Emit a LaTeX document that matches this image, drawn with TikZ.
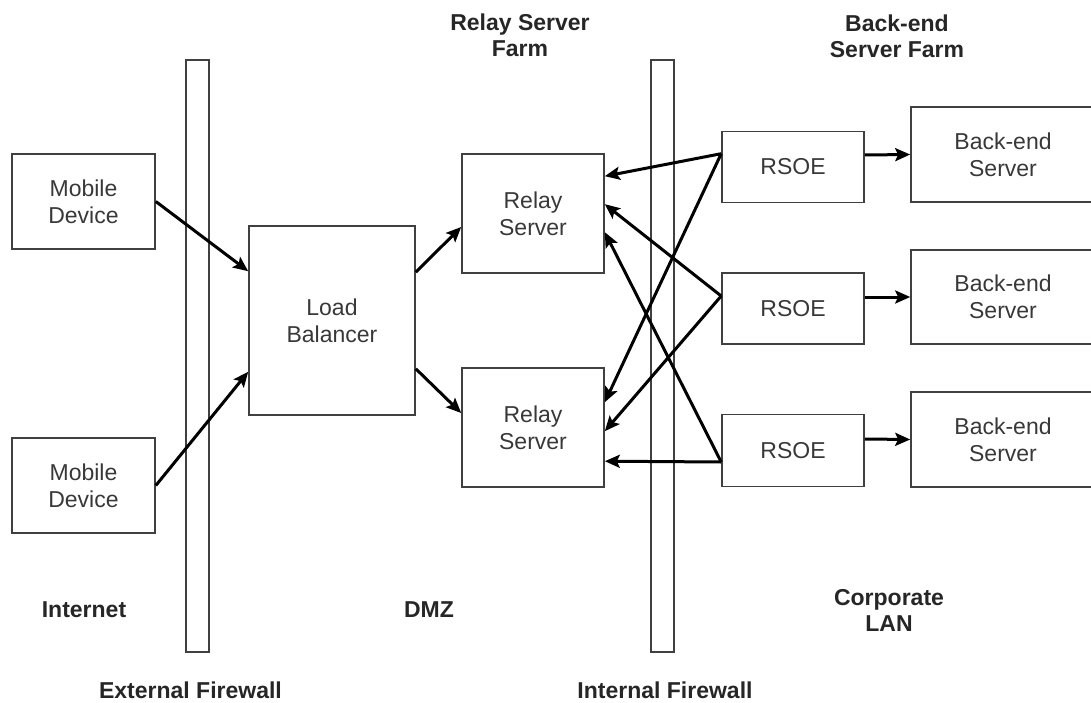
\documentclass[tikz,border=0pt]{standalone}
\usepackage{fontspec}
\setmainfont{Liberation Sans}
\usetikzlibrary{arrows.meta,calc}
\definecolor{boxline}{HTML}{404040}
\definecolor{boxtext}{HTML}{383838}
\tikzset{
  box/.style={draw=boxline, line width=1.6pt, rectangle, align=center, text=boxtext, inner sep=0pt},
  wall/.style={draw=boxline, line width=1.4pt, rectangle, inner sep=0pt, minimum width=23pt, minimum height=592pt},
  lbl/.style={font=\fontsize{23}{26}\selectfont\bfseries, align=center, text=black!85, inner sep=0pt},
  link/.style={line width=3pt, -{Stealth[length=15pt,width=13pt,inset=3pt]}}
}
\begin{document}
\begin{tikzpicture}[x=1pt,y=-1pt,font=\fontsize{23}{27}\selectfont]
\useasboundingbox (0,0) rectangle (1091,703);
% firewalls
\node[wall] (extfw) at (197.5,356) {};
\node[wall] (intfw) at (662.5,356) {};
% boxes
\node[box, minimum width=143pt, minimum height=95pt] (md1) at (83.5,201.5) {Mobile\\Device};
\node[box, minimum width=143pt, minimum height=95pt] (md2) at (83.5,485.5) {Mobile\\Device};
\node[box, minimum width=166pt, minimum height=189pt] (lb) at (332,320.5) {Load\\Balancer};
\node[box, minimum width=142pt, minimum height=119pt] (rs1) at (533,213.5) {Relay\\Server};
\node[box, minimum width=142pt, minimum height=119pt] (rs2) at (533,427.5) {Relay\\Server};
\node[box, minimum width=142pt, minimum height=71pt] (rsoe1) at (793,167) {RSOE};
\node[box, minimum width=142pt, minimum height=71pt] (rsoe2) at (793,308.5) {RSOE};
\node[box, minimum width=142pt, minimum height=72pt] (rsoe3) at (793,450.5) {RSOE};
\node[box, minimum width=184pt, minimum height=95pt] (be1) at (1003,154.5) {Back-end\\Server};
\node[box, minimum width=184pt, minimum height=94pt] (be2) at (1003,297) {Back-end\\Server};
\node[box, minimum width=184pt, minimum height=95pt] (be3) at (1003,439.5) {Back-end\\Server};
% labels
\node[lbl, anchor=north] (rsf) at (520,14) {Relay Server\\Farm};
\node[lbl, anchor=north] (bsf) at (897,15) {Back-end\\Server Farm};
\node[lbl, anchor=base] (inet) at (84,617) {Internet};
\node[lbl, anchor=base] (dmz) at (429,617) {DMZ};
\node[lbl, anchor=north] (clan) at (889,589) {Corporate\\LAN};
\node[lbl, anchor=base] (extl) at (190.5,698) {External Firewall};
\node[lbl, anchor=base] (intl) at (665,698) {Internal Firewall};
% connectors
\draw[link] (md1.east) -- ([yshift=-46pt]lb.north west);
\draw[link] (md2.east) -- ([yshift=44pt]lb.south west);
\draw[link] ([yshift=-47pt]lb.north east) -- ([yshift=-13.5pt]rs1.west);
\draw[link] ([yshift=47pt]lb.south east) -- ([yshift=14.5pt]rs2.west);
\draw[link] ([yshift=-23pt]rsoe1.north west) -- ([yshift=-23pt]rs1.north east);
\draw[link] ([yshift=-23pt]rsoe1.north west) -- ([yshift=-35pt]rs2.north east);
\draw[link] ([yshift=12.5pt]rsoe2.west) -- ([yshift=-51pt]rs1.north east);
\draw[link] ([yshift=12.5pt]rsoe2.west) -- ([yshift=-64pt]rs2.north east);
\draw[link] ([yshift=-11.5pt]rsoe3.west) -- ([yshift=-79pt]rs1.north east);
\draw[link] ([yshift=-11.5pt]rsoe3.west) -- ([yshift=-94pt]rs2.north east);
\draw[link] ([yshift=12pt]rsoe1.east) -- (be1.west);
\draw[link] ([yshift=11.5pt]rsoe2.east) -- (be2.west);
\draw[link] ([yshift=11.5pt]rsoe3.east) -- (be3.west);
\end{tikzpicture}
\end{document}
